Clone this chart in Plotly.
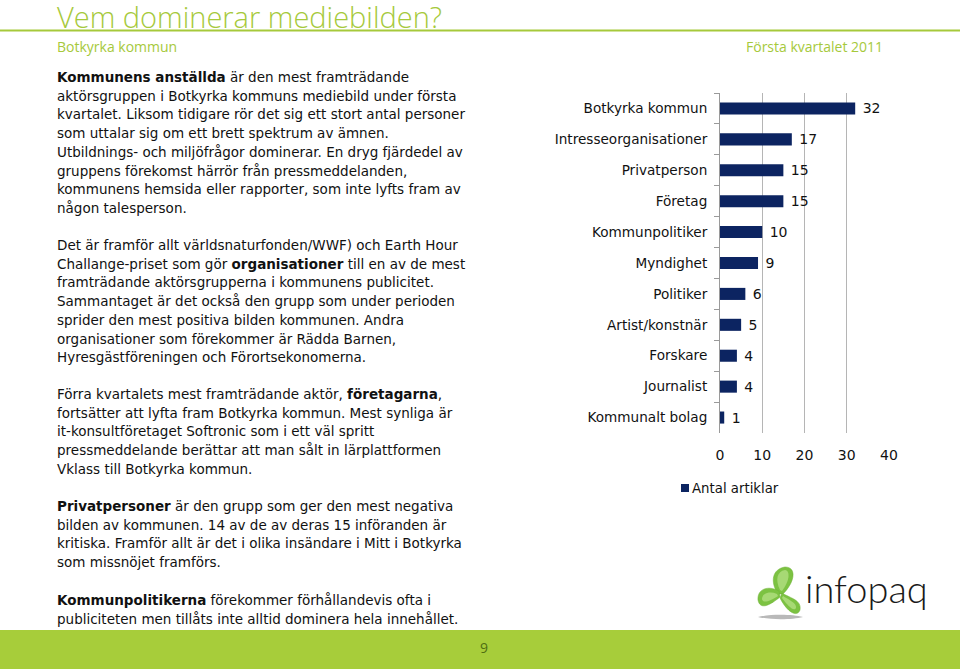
import plotly.graph_objects as go

W, H = 960, 669

categories = ["Botkyrka kommun", "Intresseorganisationer", "Privatperson", "Företag",
              "Kommunpolitiker", "Myndighet", "Politiker", "Artist/konstnär",
              "Forskare", "Journalist", "Kommunalt bolag"]
values = [32, 17, 15, 15, 10, 9, 6, 5, 4, 4, 1]
x_ticks = [0, 10, 20, 30, 40]
series_name = "Antal artiklar"

title = "Vem dominerar mediebilden?"
subtitle_left = "Botkyrka kommun"
subtitle_right = "Första kvartalet 2011"
page_number = "9"

paragraphs = [
    (77, ["<b>Kommunens anställda</b> är den mest framträdande",
          "aktörsgruppen i Botkyrka kommuns mediebild under första",
          "kvartalet. Liksom tidigare rör det sig ett stort antal personer",
          "som uttalar sig om ett brett spektrum av ämnen.",
          "Utbildnings- och miljöfrågor dominerar. En dryg fjärdedel av",
          "gruppens förekomst härrör från pressmeddelanden,",
          "kommunens hemsida eller rapporter, som inte lyfts fram av",
          "någon talesperson."]),
    (245, ["Det är framför allt världsnaturfonden/WWF) och Earth Hour",
           "Challange-priset som gör <b>organisationer</b> till en av de mest",
           "framträdande aktörsgrupperna i kommunens publicitet.",
           "Sammantaget är det också den grupp som under perioden",
           "sprider den mest positiva bilden kommunen. Andra",
           "organisationer som förekommer är Rädda Barnen,",
           "Hyresgästföreningen och Förortsekonomerna."]),
    (394, ["Förra kvartalets mest framträdande aktör, <b>företagarna</b>,",
           "fortsätter att lyfta fram Botkyrka kommun. Mest synliga är",
           "it-konsultföretaget Softronic som i ett väl spritt",
           "pressmeddelande berättar att man sålt in lärplattformen",
           "Vklass till Botkyrka kommun."]),
    (506, ["<b>Privatpersoner</b> är den grupp som ger den mest negativa",
           "bilden av kommunen. 14 av de av deras 15 införanden är",
           "kritiska. Framför allt är det i olika insändare i Mitt i Botkyrka",
           "som missnöjet framförs."]),
    (600, ["<b>Kommunpolitikerna</b> förekommer förhållandevis ofta i",
           "publiciteten men tillåts inte alltid dominera hela innehållet."]),
]


def px(x):
    return x / W


def py(y):
    return 1 - y / H


GREEN = "#a6c93b"
NAVY = "#0c2461"
BODY_FONT = "DejaVu Sans"

fig = go.Figure()
fig.add_trace(go.Bar(
    x=values, y=categories, orientation="h",
    marker=dict(color=NAVY, line=dict(width=0)),
    name=series_name, showlegend=False,
    text=values, texttemplate=" %{text}", textposition="outside",
    constraintext="none",
    textfont=dict(family=BODY_FONT, size=14, color="#111"),
    cliponaxis=False,
))

annotations = []
shapes = []

# header
annotations.append(dict(x=px(55), y=py(16.5), xref="paper", yref="paper", text=title,
                        showarrow=False, xanchor="left", yanchor="middle",
                        font=dict(family="Open Sans", size=29, color=GREEN, weight=300)))
annotations.append(dict(x=px(55), y=py(46), xref="paper", yref="paper", text=subtitle_left,
                        showarrow=False, xanchor="left", yanchor="middle",
                        font=dict(family="Open Sans", size=14, color=GREEN)))
annotations.append(dict(x=px(885), y=py(46), xref="paper", yref="paper", text=subtitle_right,
                        showarrow=False, xanchor="right", yanchor="middle",
                        font=dict(family="Open Sans", size=14, color=GREEN)))
shapes.append(dict(type="line", xref="paper", yref="paper", x0=0, x1=1, y0=py(30.5), y1=py(30.5),
                   line=dict(color=GREEN, width=2)))

# body text
LINE = 18.7
for y0, lines in paragraphs:
    for i, ln in enumerate(lines):
        annotations.append(dict(x=px(55), y=py(y0 + i * LINE), xref="paper", yref="paper",
                                text=ln, showarrow=False, xanchor="left", yanchor="middle",
                                font=dict(family=BODY_FONT, size=13.5, color="#111")))

# legend (drawn manually to match the small square key)
shapes.append(dict(type="rect", xref="paper", yref="paper", x0=px(681), x1=px(689),
                   y0=py(492), y1=py(484), fillcolor=NAVY, line=dict(width=0)))
annotations.append(dict(x=px(690), y=py(488), xref="paper", yref="paper", text=series_name,
                        showarrow=False, xanchor="left", yanchor="middle",
                        font=dict(family=BODY_FONT, size=13.3, color="#111")))

# footer
shapes.append(dict(type="rect", xref="paper", yref="paper", x0=0, x1=1, y0=0, y1=py(630),
                   fillcolor="#a7cd3a", line=dict(width=0), layer="below"))
annotations.append(dict(x=px(484), y=py(647), xref="paper", yref="paper", text=page_number,
                        showarrow=False, xanchor="center", yanchor="middle",
                        font=dict(family="Open Sans", size=14, color="#4f6e12")))


# logo
def path_px(pts_str):
    out = []
    for tok in pts_str.split():
        if "," in tok:
            a, b = tok.split(",")
            out.append(f"{px(float(a)):.5f},{py(float(b)):.5f}")
        else:
            out.append(tok)
    return " ".join(out)


shapes.append(dict(type="path", xref="paper", yref="paper",
                   path=path_px("M 758,617 C 770,614 792,614 803,617 C 792,620 770,620 758,617 Z"),
                   fillcolor="#8a8a8a", opacity=0.6, line=dict(width=0)))
lobes = [
    "M 778,594 C 770,582 772,569 785,567 C 797,567 795,582 783,594 Z",
    "M 779,591 C 768,585 757,589 758,600 C 760,610 769,606 780,597 Z",
    "M 782,593 C 790,598 802,600 800,610 C 797,618 787,612 780,598 Z",
]
for lp in lobes:
    shapes.append(dict(type="path", xref="paper", yref="paper", path=path_px(lp),
                       fillcolor="#7cc242", line=dict(color="#6cb134", width=0.5)))
highlights = [
    "M 780,590 C 775,580 777,571 785,570 C 791,571 789,582 782,591 Z",
    "M 777,594 C 770,591 762,593 762,599 C 763,604 770,601 778,596 Z",
    "M 783,596 C 789,600 797,603 796,608 C 794,612 788,606 782,598 Z",
]
for hp in highlights:
    shapes.append(dict(type="path", xref="paper", yref="paper", path=path_px(hp),
                       fillcolor="#b9e38a", opacity=0.7, line=dict(width=0)))
annotations.append(dict(x=px(803), y=py(588), xref="paper", yref="paper", text="infopaq",
                        showarrow=False, xanchor="left", yanchor="middle",
                        font=dict(family="Lato", size=38, color="#1a1a1a", weight=300)))

fig.update_layout(
    width=W, height=H, margin=dict(l=0, r=0, t=0, b=0, autoexpand=False),
    paper_bgcolor="white", plot_bgcolor="white",
    bargap=0.61,
    xaxis=dict(domain=[px(720), px(889)], range=[0, 40], tickvals=x_ticks,
               showgrid=True, gridcolor="#b5b5b5", gridwidth=1, zeroline=False,
               showline=False, ticks="", ticklabelstandoff=12, automargin=False,
               tickfont=dict(family=BODY_FONT, size=14, color="#111")),
    yaxis=dict(domain=[py(433), py(93)], autorange="reversed", type="category",
               showline=True, linecolor="#9a9a9a", linewidth=1,
               ticks="outside", ticklen=5, tickcolor="#9a9a9a", tickson="boundaries",
               showgrid=False, ticklabelstandoff=9, automargin=False,
               tickfont=dict(family=BODY_FONT, size=13.6, color="#111")),
    showlegend=False,
    annotations=annotations, shapes=shapes,
)

fig.write_html("out.html", config={"displayModeBar": False},
               post_script="document.body.style.margin='0';document.body.style.overflow='hidden';")
